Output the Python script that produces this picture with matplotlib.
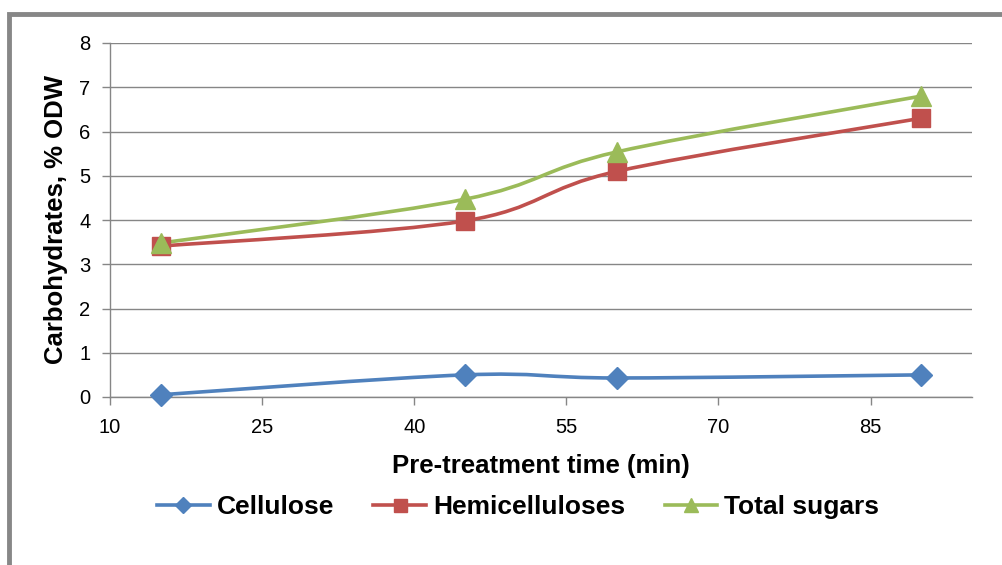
import matplotlib
matplotlib.use("Agg")
import matplotlib.pyplot as plt
from matplotlib.path import Path
from matplotlib.patches import PathPatch, Rectangle
from matplotlib.lines import Line2D
import numpy as np

plt.rcParams['font.family'] = ['Liberation Sans', 'DejaVu Sans']

# data
times = [15, 45, 60, 90]
cellulose = [0.05, 0.50, 0.43, 0.50]
hemicelluloses = [3.41, 3.98, 5.10, 6.30]
total_sugars = [3.48, 4.47, 5.54, 6.80]

x_ticks = [10, 25, 40, 55, 70, 85]
y_ticks = [0, 1, 2, 3, 4, 5, 6, 7, 8]

series = [
    ("Cellulose", cellulose, "#4F81BD", "D", 11),
    ("Hemicelluloses", hemicelluloses, "#C0504D", "s", 13),
    ("Total sugars", total_sugars, "#9BBB59", "^", 14),
]


def smooth_path(xs, ys):
    # Excel-style smoothed line: cubic bezier segments through the points
    pts = np.column_stack([xs, ys]).astype(float)
    n = len(pts)
    verts = [pts[0]]
    codes = [Path.MOVETO]
    for i in range(n - 1):
        p0 = pts[i - 1] if i > 0 else pts[i]
        p1 = pts[i]
        p2 = pts[i + 1]
        p3 = pts[i + 2] if i + 2 < n else pts[i + 1]
        c1 = p1 + (p2 - p0) / 6.0
        c2 = p2 - (p3 - p1) / 6.0
        verts += [c1, c2, p2]
        codes += [Path.CURVE4] * 3
    return Path(verts, codes)


fig = plt.figure(figsize=(10.03, 5.65), dpi=100)
ax = fig.add_axes([110 / 1003, 1 - 397 / 565, (972 - 110) / 1003, (397 - 43) / 565])

# outer chart border (only left and top visible)
fig.patches.append(Rectangle((9 / 1003, -0.1), 1.2, (565 - 14) / 565 + 0.1,
                             transform=fig.transFigure, fill=False,
                             edgecolor="#878787", linewidth=3.5))

for name, vals, col, mk, ms in series:
    ax.add_patch(PathPatch(smooth_path(times, vals), fill=False, edgecolor=col,
                           linewidth=2.6, capstyle="round", zorder=3))
    ax.plot(times, vals, linestyle="none", marker=mk, markersize=ms,
            color=col, markeredgecolor=col, zorder=4, clip_on=False)

ax.set_xlim(10, 95)
ax.set_ylim(0, 8)
ax.set_xticks(x_ticks)
ax.set_yticks(y_ticks)
ax.tick_params(axis="both", labelsize=14.5, color="#868686", length=6, width=1)
ax.tick_params(axis="x", pad=9)
ax.tick_params(axis="y", pad=8)
ax.grid(axis="y", color="#868686", linewidth=1)
ax.set_axisbelow(True)
for s in ["top", "right"]:
    ax.spines[s].set_visible(False)
for s in ["left", "bottom"]:
    ax.spines[s].set_color("#868686")
    ax.spines[s].set_linewidth(1)

ax.set_xlabel("Pre-treatment time (min)", fontsize=18.5, fontweight="bold", labelpad=12)
ax.set_ylabel("Carbohydrates, % ODW", fontsize=18.5, fontweight="bold", labelpad=8)

handles = [Line2D([0], [0], color=col, linewidth=2.6, marker=mk, markersize=ms * 0.72,
                  markeredgecolor=col) for name, vals, col, mk, ms in series]
fig.legend(handles, [s[0] for s in series], loc="center", ncol=3,
           bbox_to_anchor=(518 / 1003, 1 - 507 / 565), frameon=False,
           prop={"size": 19, "weight": "bold"}, handlelength=2.0,
           columnspacing=1.5, handletextpad=0.25)

fig.savefig("out.png", dpi=100)
